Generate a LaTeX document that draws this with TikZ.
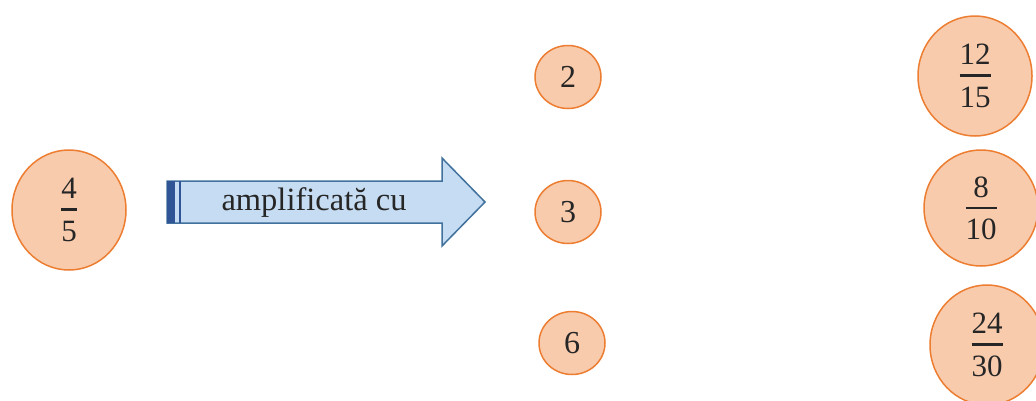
\documentclass[tikz,border=0pt]{standalone}
\usepackage{amsmath}
\usepackage{fontspec}
\setmainfont{Liberation Serif}
\usetikzlibrary{shapes.geometric}

\definecolor{pfill}{HTML}{F8CBAD}
\definecolor{pline}{HTML}{ED7D31}
\definecolor{afill}{HTML}{C5DCF2}
\definecolor{aline}{HTML}{41719C}
\definecolor{astripe}{HTML}{2F5597}

\newcommand{\fracnum}[2]{$\genfrac{}{}{2.2pt}{0}{\text{#1}}{\rule{0pt}{24pt}\text{#2}}$}

\begin{document}
\begin{tikzpicture}[x=1pt,y=-1pt,
    frac/.style={ellipse,draw=pline,fill=pfill,line width=1.5pt,inner sep=0pt,
      minimum width=114pt,minimum height=120pt,
      font=\fontsize{31}{36}\selectfont,text=black!85},
    factor/.style={ellipse,draw=pline,fill=pfill,line width=1.5pt,inner sep=0pt,
      minimum width=66pt,minimum height=63pt,
      font=\fontsize{32}{38}\selectfont,text=black!85},
    arrowbox/.style={draw=aline,fill=afill,line width=1.5pt,line join=miter}]
    \useasboundingbox (0,0) rectangle (1036,400);

    % fraction
    \node[frac] (given) at (69,210) {\fracnum{4}{5}};

    % arrow
    \draw[arrowbox] (167,181) -- (442,181) -- (442,158) -- (485,202)
      -- (442,246) -- (442,223) -- (167,223) -- cycle;
    \fill[astripe] (167,181) rectangle (175,223);
    \draw[astripe,line width=1.5pt] (180,181) -- (180,223);
    \node[font=\fontsize{32.5}{38}\selectfont,text=black!85] (amp) at (314,203) {amplificată cu};

    % factors
    \node[factor] (two) at (568,77) {2};
    \node[factor] (three) at (568,212) {3};
    \node[factor] (six) at (572,343) {6};

    % results
    \node[frac] (twelve) at (975,76) {\fracnum{12}{15}};
    \node[frac,minimum height=116pt] (eight) at (981,208) {\fracnum{8}{10}};
    \node[frac] (twentyfour) at (987,345) {\fracnum{24}{30}};
\end{tikzpicture}
\end{document}
